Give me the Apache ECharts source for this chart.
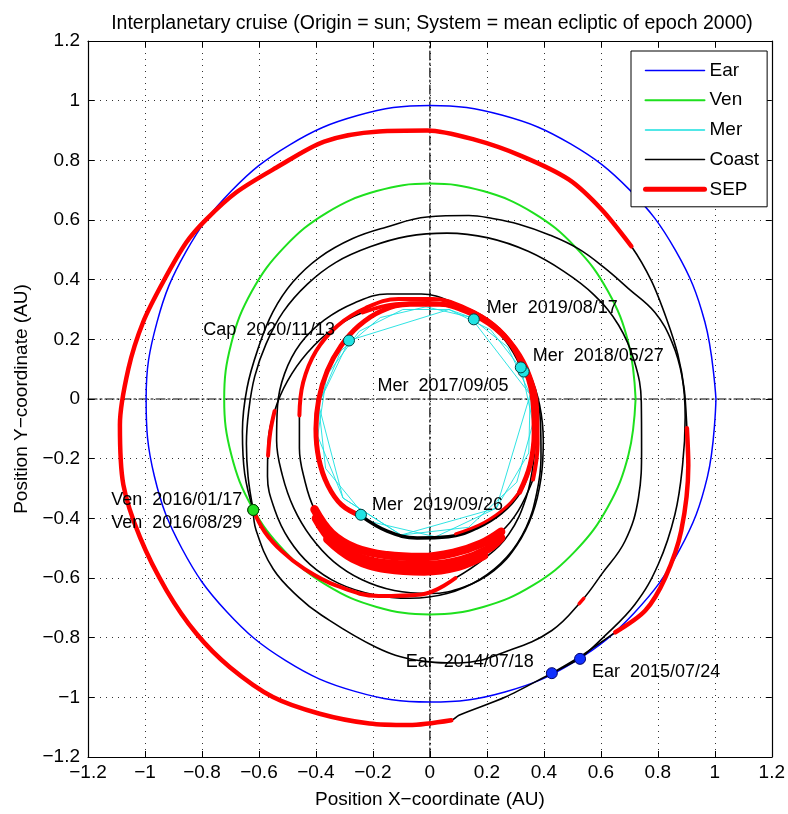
<!DOCTYPE html>
<html><head><meta charset="utf-8">
<script src="https://cdn.jsdelivr.net/npm/echarts@6/dist/echarts.min.js"></script>
<style>html,body{margin:0;padding:0;background:#fff}#c{width:788px;height:814px}</style>
</head><body><div id="c"></div>
<script>
// ---------- tick labels ----------
const xTickLabels = ['−1.2','−1','−0.8','−0.6','−0.4','−0.2','0','0.2','0.4','0.6','0.8','1','1.2'];
const yTickLabels = ['−1.2','−1','−0.8','−0.6','−0.4','−0.2','0','0.2','0.4','0.6','0.8','1','1.2'];
const legendNames = ['Ear','Ven','Mer','Coast','SEP'];

// ---------- planet orbits (AU) ----------
const earthOrbit = [[1.004,0.000],[0.965,0.259],[0.862,0.498],[0.701,0.701],[0.494,0.855],[0.255,0.951],[0.000,0.984],[-0.254,0.950],[-0.492,0.852],[-0.697,0.697],[-0.856,0.494],[-0.958,0.257],[-0.996,0.000],[-0.967,-0.259],[-0.870,-0.502],[-0.713,-0.713],[-0.506,-0.877],[-0.263,-0.980],[0.000,-1.016],[0.263,-0.982],[0.508,-0.880],[0.717,-0.717],[0.876,-0.506],[0.974,-0.261],[1.004,0.000]];
const venusOrbit = [[0.722,0],[0.697,0.187],[0.625,0.361],[0.510,0.510],[0.361,0.625],[0.187,0.697],[0,0.722],[-0.187,0.697],[-0.361,0.625],[-0.510,0.510],[-0.625,0.361],[-0.697,0.187],[-0.722,0],[-0.697,-0.187],[-0.625,-0.361],[-0.510,-0.510],[-0.361,-0.625],[-0.187,-0.697],[0,-0.722],[0.187,-0.697],[0.361,-0.625],[0.510,-0.510],[0.625,-0.361],[0.697,-0.187],[0.722,0]];
const mercuryA = [[0.067,0.300],[-0.095,0.300],[-0.248,0.227],[-0.362,0.080],[-0.394,-0.124],[-0.305,-0.332],[-0.101,-0.456],[0.136,-0.430],[0.305,-0.279],[0.362,-0.080],[0.321,0.101],[0.213,0.232],[0.067,0.300]];
const mercuryB = [[-0.014,0.309],[-0.174,0.273],[-0.312,0.162],[-0.391,-0.017],[-0.366,-0.233],[-0.213,-0.410],[0.020,-0.462],[0.233,-0.366],[0.347,-0.181],[0.352,0.015],[0.273,0.174],[0.143,0.274],[-0.014,0.309]];
const mercuryC = [[0.067,0.300],[-0.284,0.196],[-0.391,-0.017],[-0.305,-0.332],[-0.101,-0.456],[0.233,-0.366],[0.352,0.015],[0.143,0.274],[0.067,0.300]];

// ---------- trajectory: full coast paths (black) ----------
const coastEarthLoop = [[0.428,-0.919],[0.539,-0.856],[0.651,-0.782],[0.756,-0.709],[0.826,-0.599],[0.882,-0.442],[0.907,-0.222],[0.902,-0.098],[0.893,0.030],[0.870,0.150],[0.832,0.265],[0.778,0.395],[0.707,0.512],[0.602,0.636],[0.487,0.736],[0.320,0.815],[0.154,0.870],[-0.009,0.900],[-0.179,0.897],[-0.371,0.863],[-0.540,0.775],[-0.679,0.693],[-0.784,0.603],[-0.854,0.526],[-0.936,0.393],[-1.006,0.259],[-1.058,0.102],[-1.088,-0.087],[-1.076,-0.287],[-1.017,-0.465],[-0.924,-0.642],[-0.819,-0.787],[-0.702,-0.899],[-0.551,-0.999],[-0.387,-1.055],[-0.212,-1.088],[-0.074,-1.093],[0.075,-1.077],[0.102,-1.060],[0.265,-0.999],[0.428,-0.919],[0.527,-0.871]];
const coastEarthVenus = [[0.527,-0.871],[0.603,-0.804],[0.720,-0.688],[0.802,-0.553],[0.860,-0.387],[0.887,-0.220],[0.896,-0.060],[0.885,0.075],[0.850,0.190],[0.790,0.290],[0.697,0.370],[0.612,0.440],[0.522,0.503],[0.420,0.550],[0.312,0.586],[0.220,0.605],[0.137,0.615],[-0.010,0.610],[-0.154,0.576],[-0.271,0.538],[-0.387,0.475],[-0.481,0.392],[-0.551,0.292],[-0.603,0.169],[-0.642,0.036],[-0.658,-0.109],[-0.650,-0.250],[-0.620,-0.372]];
const coastVenusVenus = [[-0.620,-0.372],[-0.610,-0.440],[-0.550,-0.570],[-0.460,-0.665],[-0.380,-0.725],[-0.189,-0.832],[-0.050,-0.875],[0.102,-0.885],[0.277,-0.843],[0.428,-0.776],[0.533,-0.676],[0.603,-0.587],[0.685,-0.476],[0.732,-0.331],[0.743,-0.165],[0.742,-0.010],[0.718,0.125],[0.662,0.248],[0.575,0.350],[0.470,0.428],[0.345,0.495],[0.205,0.540],[0.060,0.556],[-0.080,0.545],[-0.210,0.510],[-0.330,0.458],[-0.430,0.385],[-0.515,0.292],[-0.575,0.185],[-0.615,0.075],[-0.636,-0.040],[-0.644,-0.150],[-0.638,-0.262],[-0.620,-0.372]];
const coastVenusMercury = [[-0.620,-0.372],[-0.580,-0.445],[-0.520,-0.510],[-0.440,-0.570],[-0.330,-0.625],[-0.180,-0.660],[-0.030,-0.655],[0.090,-0.600],[0.195,-0.532],[0.277,-0.453],[0.338,-0.330],[0.365,-0.200],[0.372,-0.080],[0.360,0.020],[0.329,0.092]];
const coastLoop4 = [[0.329,0.092],[0.285,0.180],[0.205,0.252],[0.105,0.300],[-0.005,0.322],[-0.120,0.318],[-0.236,0.290],[-0.340,0.235],[-0.430,0.155],[-0.500,0.060],[-0.545,-0.040],[-0.568,-0.150],[-0.570,-0.260],[-0.545,-0.370],[-0.495,-0.470],[-0.420,-0.555],[-0.320,-0.618],[-0.200,-0.655],[-0.070,-0.668],[0.060,-0.652],[0.175,-0.605],[0.270,-0.530],[0.338,-0.430],[0.375,-0.315],[0.390,-0.195],[0.388,-0.075],[0.368,0.030],[0.319,0.106]];
const coastLoop3 = [[0.319,0.106],[0.265,0.195],[0.185,0.268],[0.085,0.322],[-0.030,0.352],[-0.150,0.352],[-0.265,0.322],[-0.370,0.265],[-0.455,0.185],[-0.510,0.085],[-0.535,-0.025],[-0.538,-0.140],[-0.518,-0.255],[-0.478,-0.365],[-0.418,-0.462],[-0.338,-0.545],[-0.240,-0.605],[-0.125,-0.642],[0.000,-0.652],[0.120,-0.630],[0.225,-0.575],[0.305,-0.490],[0.360,-0.385],[0.390,-0.265],[0.398,-0.140],[0.385,-0.020],[0.350,0.085],[0.300,0.170]];
const coastLoop2 = [[0.362,-0.270],[0.378,-0.150],[0.376,-0.030],[0.350,0.080],[0.300,0.170],[0.225,0.248],[0.125,0.305],[0.010,0.335],[-0.110,0.335],[-0.225,0.305],[-0.325,0.245],[-0.400,0.160],[-0.445,0.055],[-0.458,-0.055],[-0.458,-0.165],[-0.440,-0.270],[-0.405,-0.370],[-0.345,-0.450],[-0.260,-0.500],[-0.150,-0.524],[-0.030,-0.530],[0.085,-0.515],[0.180,-0.485],[0.250,-0.445],[0.310,-0.375],[0.362,-0.270]];
const coastLoop1 = [[-0.242,-0.392],[-0.150,-0.443],[-0.045,-0.466],[0.065,-0.462],[0.165,-0.432],[0.250,-0.382],[0.315,-0.312],[0.352,-0.220],[0.366,-0.115],[0.362,-0.010],[0.338,0.090],[0.290,0.178],[0.222,0.248],[0.135,0.296],[0.035,0.318],[-0.070,0.318],[-0.170,0.295],[-0.250,0.245],[-0.312,0.178],[-0.360,0.095],[-0.390,0.000],[-0.400,-0.100],[-0.390,-0.200],[-0.358,-0.290],[-0.310,-0.355],[-0.242,-0.392]];

// ---------- trajectory: SEP thrust arcs (red) ----------
const sepEarthLoopA = [[0.651,-0.782],[0.756,-0.709],[0.826,-0.599],[0.882,-0.442],[0.907,-0.222],[0.902,-0.098]];
const sepEarthLoopB = [[0.707,0.512],[0.602,0.636],[0.487,0.736],[0.320,0.815],[0.154,0.870],[-0.009,0.900],[-0.179,0.897],[-0.371,0.863],[-0.540,0.775],[-0.679,0.693],[-0.784,0.603],[-0.854,0.526],[-0.936,0.393],[-1.006,0.259],[-1.058,0.102],[-1.088,-0.087],[-1.076,-0.287],[-1.017,-0.465],[-0.924,-0.642],[-0.819,-0.787],[-0.702,-0.899],[-0.551,-0.999],[-0.387,-1.055],[-0.212,-1.088],[-0.074,-1.093],[0.075,-1.077]];
const sepBlip = [[0.524,-0.686],[0.540,-0.668]];
const sepVenusMercury = [[-0.620,-0.372],[-0.580,-0.445],[-0.520,-0.510],[-0.440,-0.570],[-0.330,-0.625],[-0.180,-0.660],[-0.030,-0.655],[0.090,-0.600]];
const sepLoop4Top = [[0.329,0.092],[0.285,0.180],[0.205,0.252],[0.105,0.300],[-0.005,0.322],[-0.120,0.318],[-0.236,0.290]];
const sepLoop4Left = [[-0.545,-0.040],[-0.560,-0.110],[-0.568,-0.190]];
const sepLoop2Top = [[0.362,-0.270],[0.378,-0.150],[0.376,-0.030],[0.350,0.080],[0.300,0.170],[0.225,0.248],[0.125,0.305],[0.010,0.335],[-0.110,0.335],[-0.225,0.305],[-0.325,0.245],[-0.400,0.160],[-0.445,0.055],[-0.458,-0.055]];
const sepBand1 = [[-0.405,-0.370],[-0.345,-0.450],[-0.260,-0.500],[-0.150,-0.524],[-0.030,-0.530],[0.085,-0.515],[0.180,-0.485],[0.250,-0.445]];
const sepBand2 = [[-0.400,-0.400],[-0.340,-0.478],[-0.250,-0.530],[-0.130,-0.553],[0.000,-0.556],[0.110,-0.540],[0.200,-0.505],[0.250,-0.465]];
const sepBand3 = [[-0.360,-0.470],[-0.270,-0.535],[-0.150,-0.570],[-0.020,-0.578],[0.100,-0.562],[0.190,-0.525]];
const sepLoop1 = [[0.315,-0.312],[0.352,-0.220],[0.366,-0.115],[0.362,-0.010],[0.338,0.090],[0.290,0.178],[0.222,0.248],[0.135,0.296],[0.035,0.318],[-0.070,0.318],[-0.170,0.295],[-0.250,0.245],[-0.312,0.178],[-0.360,0.095],[-0.390,0.000],[-0.400,-0.100],[-0.390,-0.200],[-0.358,-0.290],[-0.310,-0.355],[-0.242,-0.392]];
const sepLoop1Thin = [[0.090,-0.452],[0.190,-0.414],[0.270,-0.360],[0.322,-0.300]];

// ---------- flyby markers ----------
const flybyNames = ['Ear  2014/07/18','Ear  2015/07/24','Ven  2016/01/17','Ven  2016/08/29','Mer  2017/09/05','Mer  2018/05/27','Mer  2019/08/17','Mer  2019/09/26','Cap  2020/11/13'];
const flybyX = [0.428,0.527,-0.620,-0.620,0.329,0.319,0.154,-0.242,-0.284];
const flybyY = [-0.919,-0.871,-0.372,-0.372,0.092,0.106,0.267,-0.388,0.196];
const flybyBody = ['Ear','Ear','Ven','Ven','Mer','Mer','Mer','Mer','Mer'];

// reference cross lines through the origin
const crossH = [[-1.2,0],[1.2,0]];
const crossV = [[0,-1.2],[0,1.2]];

// ---------- build chart ----------
const FONT = "'Liberation Sans', Arial, sans-serif";
const COL = {Ear:'#0000ff', Ven:'#1ee01e', Mer:'#19e0e0', Coast:'#000000', SEP:'#ff0000'};
const W = {Ear:1.5, Ven:2, Mer:0.9, Coast:1.6, SEP:5};

function ln(name, data, opts) {
  opts = opts || {};
  return {
    type:'line', name, data, symbol:'none', showSymbol:false, silent:true,
    smooth: opts.smooth === undefined ? 0.4 : opts.smooth,
    lineStyle:{color: opts.color || COL[name], width: opts.width || W[name], type: opts.type || 'solid', cap:'round', join:'round'},
    itemStyle:{color: opts.color || COL[name]},
    z: opts.z || 2, animation:false
  };
}

const series = [];
series.push(ln('cross', crossH, {color:'#000', width:1.2, type:[9,3,2,3], smooth:false, z:1}));
series.push(ln('cross', crossV, {color:'#000', width:1.2, type:[9,3,2,3], smooth:false, z:1}));
series.push(ln('Ear', earthOrbit, {smooth:0.4}));
series.push(ln('Ven', venusOrbit, {smooth:0.4}));
series.push(ln('Mer', mercuryA, {smooth:false}));
series.push(ln('Mer', mercuryB, {smooth:false}));
series.push(ln('Mer', mercuryC, {smooth:false}));

series.push(ln('Coast', coastEarthLoop, {smooth:0.3}));
[coastEarthVenus, coastVenusVenus, coastVenusMercury, coastLoop4, coastLoop3, coastLoop2]
  .forEach(d => series.push(ln('Coast', d)));
series.push(ln('Coast', coastLoop1, {width:3.5}));

series.push(ln('SEP', sepEarthLoopA, {width:4.5, smooth:0.3}));
series.push(ln('SEP', sepEarthLoopB, {width:4.5, smooth:0.3}));
series.push(ln('SEP', sepBlip, {width:3.5, smooth:false}));
[sepVenusMercury, sepLoop4Top, sepLoop4Left, sepLoop2Top].forEach(d => series.push(ln('SEP', d, {width:4})));
[sepBand1, sepBand2, sepBand3].forEach(d => series.push(ln('SEP', d, {width:8.5})));
series.push(ln('SEP', sepLoop1, {width:5}));
series.push(ln('SEP', sepLoop1Thin, {width:3}));

const labelPlace = [
  {position:'left', distance:12, offset:[0,-11]},
  {position:'right', distance:6, offset:[0,13]},
  {position:'left', distance:5, offset:[0,-10]},
  {position:'left', distance:5, offset:[0,13]},
  {position:'left', distance:9, offset:[0,14]},
  {position:'right', distance:6, offset:[0,-11]},
  {position:'right', distance:7, offset:[0,-11]},
  {position:'right', distance:5, offset:[0,-10]},
  {position:'left', distance:8, offset:[0,-10]}
];
const dotFill = {Ear:'#1030ff', Ven:'#20dd20', Mer:'#22e4e4'};
const dotEdge = {Ear:'#00006a', Ven:'#004400', Mer:'#004040'};
series.push({
  type:'scatter', name:'flyby', silent:true, z:10, animation:false,
  symbol:'circle', symbolSize:11,
  itemStyle:{opacity:1},
  data: flybyNames.map((n,i) => ({
    name:n, value:[flybyX[i], flybyY[i]],
    itemStyle:{color:dotFill[flybyBody[i]], borderColor:dotEdge[flybyBody[i]], borderWidth:1, opacity:1},
    label:Object.assign({show:true, formatter:'{b}', color:'#000', opacity:1, fontSize:18, fontFamily:FONT}, labelPlace[i])
  }))
});

function tickFmt(labels){ return v => labels[Math.round((v + 1.2) / 0.2)] || ''; }

const axisCommon = {
  type:'value', min:-1.2, max:1.2, interval:0.2,
  axisLine:{show:true, onZero:false, lineStyle:{color:'#000', width:1.2}},
  axisTick:{show:true, inside:true, length:6, lineStyle:{color:'#000', width:1}},
};

const option = {
  backgroundColor:'#fff',
  animation:false,
  title:{
    text:'Interplanetary cruise (Origin = sun; System = mean ecliptic of epoch 2000)',
    left:427, top:9, textAlign:'center',
    textStyle:{fontSize:19.5, fontWeight:'normal', color:'#000', fontFamily:FONT}
  },
  grid:{left:88, right:14, top:41, bottom:54, containLabel:false},
  legend:{
    orient:'vertical', left:631, top:51,
    padding:[10,8,8,12], itemWidth:59, itemHeight:14, itemGap:10.7,
    backgroundColor:'#fff', borderColor:'#000', borderWidth:1, borderRadius:0,
    selectedMode:false,
    textStyle:{fontSize:19, color:'#000', fontFamily:FONT},
    data: legendNames.map(n => ({
      name:n,
      itemStyle:{color:'rgba(0,0,0,0)', borderWidth:0, opacity:0},
      lineStyle:{color:COL[n], width: n==='SEP'?5:(n==='Ven'?2:1.5), opacity:1}
    }))
  },
  xAxis:[
    Object.assign({}, axisCommon, {
      position:'bottom',
      name:'Position X−coordinate (AU)', nameLocation:'middle', nameGap:33,
      nameTextStyle:{fontSize:19, color:'#000', fontFamily:FONT},
      axisLabel:{formatter:tickFmt(xTickLabels), color:'#000', fontSize:19, fontFamily:FONT, margin:6, showMinLabel:true, showMaxLabel:true},
      splitLine:{show:true, lineStyle:{color:'#333', width:1, type:[1,5]}}
    }),
    Object.assign({}, axisCommon, {position:'top', axisLabel:{show:false}, splitLine:{show:false}})
  ],
  yAxis:[
    Object.assign({}, axisCommon, {
      position:'left',
      name:'Position Y−coordinate (AU)', nameLocation:'middle', nameGap:57,
      nameTextStyle:{fontSize:19, color:'#000', fontFamily:FONT},
      axisLabel:{formatter:tickFmt(yTickLabels), color:'#000', fontSize:19, fontFamily:FONT, margin:8, showMinLabel:true, showMaxLabel:true},
      splitLine:{show:true, lineStyle:{color:'#333', width:1, type:[1,5]}}
    }),
    Object.assign({}, axisCommon, {position:'right', axisLabel:{show:false}, splitLine:{show:false}})
  ],
  series: series
};

const chart = echarts.init(document.getElementById('c'), null, {renderer:'canvas'});
chart.setOption(option);
</script>
</body></html>
